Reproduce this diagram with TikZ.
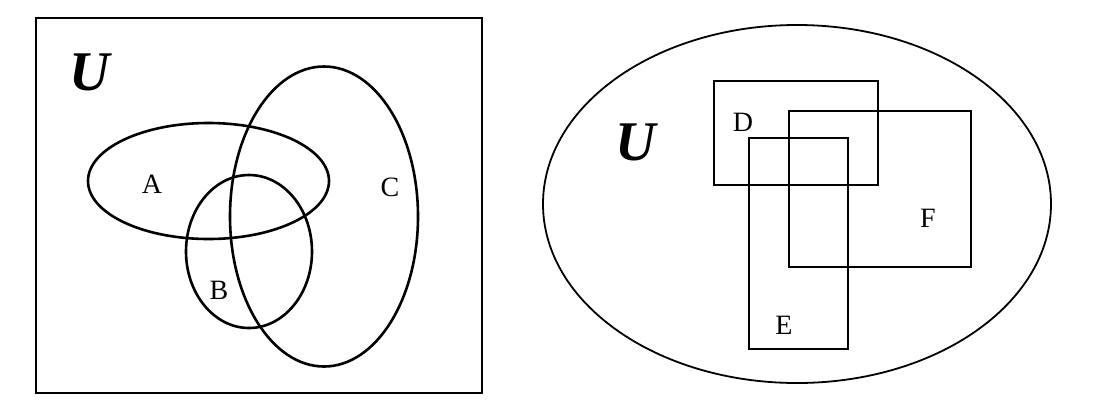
\documentclass[tikz,border=0pt]{standalone}
\usepackage{fontspec}
\setmainfont{Liberation Serif}
\begin{document}
\begin{tikzpicture}[x=1pt,y=-1pt,
  setline/.style={draw=black,line width=2.6pt},
  frameline/.style={draw=black,line width=2.2pt},
  boxline/.style={draw=black,line width=2.4pt},
  uniline/.style={draw=black,line width=1.8pt},
  lbl/.style={font=\fontsize{28}{28}\selectfont,inner sep=0pt},
  ulbl/.style={font=\fontsize{56}{56}\selectfont\bfseries\itshape,inner sep=0pt}]
\useasboundingbox (0,0) rectangle (1110,408);
% left diagram
\draw[frameline] (36,18) rectangle (482,393);
\node[ulbl] (U1) at (90,72) {U};
\draw[setline] (208.5,181) ellipse [x radius=120.5, y radius=58];
\draw[setline] (249,251.5) ellipse [x radius=63, y radius=76.5];
\draw[setline] (324,216.5) ellipse [x radius=94, y radius=150];
\node[lbl] (A) at (152,184) {A};
\node[lbl] (B) at (219,290) {B};
\node[lbl] (C) at (390,187) {C};
% right diagram
\draw[uniline] (797,204) ellipse [x radius=254, y radius=179];
\node[ulbl] (U2) at (636,142) {U};
\draw[boxline] (714,81) rectangle (878,185);
\draw[boxline] (789,111) rectangle (971,267);
\draw[boxline] (749,138) rectangle (848,349);
\node[lbl] (D) at (743,122) {D};
\node[lbl] (F) at (928,218) {F};
\node[lbl] (E) at (784,325) {E};
\end{tikzpicture}
\end{document}
